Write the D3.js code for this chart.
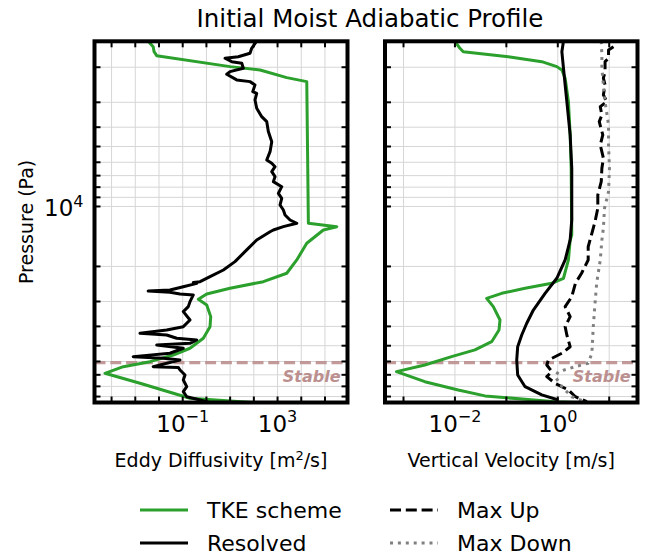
<!DOCTYPE html>
<html>
<head>
<meta charset="utf-8">
<script src="https://cdn.jsdelivr.net/npm/d3@7"></script>
<style>
  body { margin: 0; background: #fff; }
  text { font-family: "DejaVu Sans", sans-serif; }
</style>
</head>
<body>
<svg id="chart" width="654" height="556"></svg>
<script>
// Each series is a list of [value, pressure (Pa)]

// Eddy diffusivity, TKE scheme [m2/s]
var eddyTke = [
  [0.0035, 1480], [0.0057, 1577], [0.0062, 1671], [0.008, 1750], [9.9, 1986],
  [183, 2065], [2443, 2256], [17060, 2362], [19950, 12140], [314800, 12630],
  [85500, 13120], [17060, 15300], [6457, 18560], [2443, 21640], [252, 23850],
  [9.9, 25740], [1.03, 27490], [0.455, 29240], [1.03, 31220], [1.52, 35730],
  [1.42, 40120], [0.74, 45890], [0.203, 51500], [0.0401, 55670], [0.00417, 60130],
  [0.000312, 63730], [0.0000527, 68780], [0.00158, 77190], [0.0401, 86650],
  [0.203, 91800], [132, 96600]
];

// Eddy diffusivity, resolved [m2/s]
var eddyResolved = [
  [132, 1480], [81, 1607], [69, 1702], [22, 1771], [6.1, 1803], [11.7, 1875],
  [31, 1910], [36, 2024], [9.9, 2104], [7.2, 2168], [19, 2316], [69, 2362],
  [112, 2453], [90, 2652], [132, 2704], [112, 2919], [132, 3215], [215, 3541],
  [350, 3751], [409, 4209], [569, 4727], [483, 5306], [350, 5845], [569, 6072],
  [783, 6313], [569, 6688], [783, 7085], [665, 7505], [1503, 7955], [1081, 8590],
  [1503, 9100], [1274, 9826], [1758, 10420], [2071, 11040], [3365, 11690],
  [6457, 12140], [1758, 12630], [665, 13120], [483, 13390], [132, 14730],
  [50, 16520], [16, 18920], [5.2, 20840], [1.42, 22510], [0.54, 23860],
  [0.28, 24090], [0.39, 24330], [0.106, 25290], [0.029, 26260], [0.0035, 26600],
  [0.029, 26950], [0.077, 27480], [0.28, 27800], [0.203, 30050], [0.172, 31830],
  [0.106, 33720], [0.203, 37140], [0.106, 40120], [0.0211, 41690], [0.00158, 43340],
  [0.0211, 44190], [0.0558, 45890], [0.39, 46790], [0.203, 48620], [0.008, 49570],
  [0.106, 51500], [0.029, 54550], [0.00082, 56730], [0.0152, 57830], [0.077, 59010],
  [0.0057, 63680], [0.065, 64290], [0.077, 66200], [0.125, 70150], [0.106, 74300],
  [0.148, 80290], [0.106, 85080], [0.148, 90180], [0.54, 93600], [1.42, 96600]
];

// Vertical velocity, TKE scheme [m/s]
var velTke = [
  [0.01, 1480], [0.0125, 1607], [0.0145, 1671], [0.109, 1771], [0.488, 1875],
  [0.957, 1986], [1.2, 2065], [1.39, 2271], [1.61, 2977], [1.74, 4375],
  [1.82, 6430], [1.87, 13900], [1.74, 14730], [1.61, 18560], [1.29, 22930],
  [0.764, 24300], [0.231, 25750], [0.0812, 27290], [0.0414, 28910], [0.0557, 31830],
  [0.0752, 37140], [0.0719, 41690], [0.0518, 47730], [0.0245, 52500],
  [0.0086, 56730], [0.0026, 62510], [0.00073, 67480], [0.0026, 75800],
  [0.0116, 83430], [0.0384, 89330], [0.231, 92930], [0.886, 95550], [3.4, 96600]
];

// Vertical velocity, resolved [m/s]
var velResolved = [
  [1.29, 1480], [1.2, 1671], [1.29, 2024], [1.5, 2977], [1.74, 4375],
  [1.87, 6430], [1.87, 9460], [1.87, 11690], [1.74, 14730], [1.39, 18560],
  [0.957, 22930], [0.566, 27290], [0.335, 33110], [0.249, 38560], [0.199, 44190],
  [0.166, 50580], [0.159, 59010], [0.166, 70150], [0.231, 80290], [0.488, 88310],
  [1.03, 93600]
];

// Max updraft [m/s]
var velMaxUp = [
  [12.1, 1577], [9.7, 1637], [9.7, 1803], [8.3, 1875], [8.3, 2104], [7.7, 2271],
  [8.3, 2453], [7.7, 2754], [9.0, 2977], [6.7, 3155], [7.2, 3474], [6.4, 3751],
  [7.5, 4375], [6.7, 4909], [7.7, 5724], [7.2, 6430], [7.0, 7510], [6.0, 8756],
  [6.0, 10210], [5.3, 11920], [4.6, 13640], [3.9, 15930], [3.9, 18560],
  [2.9, 21630], [2.2, 24310], [1.87, 28390], [1.39, 31830], [1.74, 35730],
  [1.39, 40120], [1.5, 44190], [1.74, 50580], [1.2, 54560], [0.656, 59010],
  [0.611, 62510], [0.764, 67480], [0.611, 71450], [0.886, 77220], [1.61, 83430],
  [2.2, 90180], [3.67, 95550]
];

// Max downdraft [m/s]
var velMaxDown = [
  [7.0, 1480], [7.2, 1734], [7.2, 2024], [7.7, 2453], [8.3, 2977], [9.7, 3900],
  [9.7, 4909], [10.1, 6430], [9.7, 8430], [8.1, 10210], [7.7, 12860],
  [7.2, 14730], [6.7, 18560], [5.7, 24310], [5.3, 30620], [4.9, 40120],
  [4.6, 54560], [3.9, 61230], [2.2, 63680], [1.03, 67480], [0.886, 71450],
  [1.2, 80290], [1.87, 90180], [3.4, 95550]
];

var stablePressure = 60800;
var pressureDomain = [1482, 96400];
var eddyDomain = [Math.pow(10, -4.72), Math.pow(10, 5.95)];
var velDomain = [Math.pow(10, -3.36), Math.pow(10, 1.55)];
var eddyTickLabels = [1e-1, 1e3];
var velTickLabels = [1e-2, 1e0];
var pressureTickLabels = [1e4];

var green = "#2ca02c";
var stableColor = "#bc8f8f";

var svg = d3.select("#chart");

var margin = { top: 41.3, bottom: 402.5 };
var y = d3.scaleLog().domain(pressureDomain).range([margin.top, margin.bottom]);

var panels = [
  {
    id: "eddy", x0: 94.5, x1: 347.5, domain: eddyDomain, labels: eddyTickLabels,
    xlabel: ["Eddy Diffusivity [m", "2", "/s]"],
    series: [
      { data: eddyTke, color: green, dash: null },
      { data: eddyResolved, color: "#000", dash: null }
    ]
  },
  {
    id: "vel", x0: 385, x1: 637.5, domain: velDomain, labels: velTickLabels,
    xlabel: ["Vertical Velocity [m/s]"],
    series: [
      { data: velTke, color: green, dash: null },
      { data: velResolved, color: "#000", dash: null },
      { data: velMaxUp, color: "#000", dash: "11,4.8" },
      { data: velMaxDown, color: "#808080", dash: "3,4.9" }
    ]
  }
];

// minor + major pressure ticks
var yTicks = [];
[1000, 10000].forEach(function(base) {
  for (var m = 1; m < 10; m++) {
    var v = base * m;
    if (v >= pressureDomain[0] && v <= pressureDomain[1]) yTicks.push(v);
  }
});

function powLabel(sel, v) {
  var e = Math.round(Math.log10(v));
  sel.append("tspan").text("10");
  sel.append("tspan")
    .attr("dy", -9.5)
    .style("font-size", "16px")
    .text(e < 0 ? "\u2212" + (-e) : String(e));
}

panels.forEach(function(p, pi) {
  var x = d3.scaleLog().domain(p.domain).range([p.x0, p.x1]);
  var lo = Math.ceil(Math.log10(p.domain[0])), hi = Math.floor(Math.log10(p.domain[1]));
  var xTicks = d3.range(lo, hi + 1).map(function(e) { return Math.pow(10, e); });

  var g = svg.append("g").attr("class", "panel-" + p.id);

  g.append("clipPath").attr("id", "clip-" + p.id)
    .append("rect")
    .attr("x", p.x0).attr("y", margin.top)
    .attr("width", p.x1 - p.x0).attr("height", margin.bottom - margin.top);

  // grid
  g.selectAll(".vgrid").data(xTicks).enter().append("line")
    .attr("class", "vgrid")
    .attr("x1", function(d) { return x(d); }).attr("x2", function(d) { return x(d); })
    .attr("y1", margin.top).attr("y2", margin.bottom)
    .attr("stroke", "#d6d6d6").attr("stroke-width", 1);
  g.selectAll(".hgrid").data(yTicks).enter().append("line")
    .attr("class", "hgrid")
    .attr("x1", p.x0).attr("x2", p.x1)
    .attr("y1", function(d) { return y(d); }).attr("y2", function(d) { return y(d); })
    .attr("stroke", "#d6d6d6").attr("stroke-width", 1);

  var plot = g.append("g").attr("clip-path", "url(#clip-" + p.id + ")");

  // stable level
  plot.append("line")
    .attr("x1", p.x0).attr("x2", p.x1)
    .attr("y1", y(stablePressure)).attr("y2", y(stablePressure))
    .attr("stroke", stableColor).attr("stroke-opacity", 0.9)
    .attr("stroke-width", 3.3).attr("stroke-dasharray", "11,4.8");

  var line = d3.line()
    .x(function(d) { return x(d[0]); })
    .y(function(d) { return y(d[1]); });

  p.series.forEach(function(s) {
    plot.append("path")
      .datum(s.data)
      .attr("d", line)
      .attr("fill", "none")
      .attr("stroke", s.color)
      .attr("stroke-width", 3)
      .attr("stroke-linejoin", "round")
      .attr("stroke-dasharray", s.dash);
  });

  g.append("text")
    .attr("x", p.x1 - 7)
    .attr("y", y(stablePressure) + 19)
    .attr("text-anchor", "end")
    .attr("fill", stableColor)
    .style("font-size", "16px")
    .style("font-weight", "bold")
    .style("font-style", "italic")
    .text("Stable");

  // ticks (inward, all sides)
  var tk = 6;
  xTicks.forEach(function(v) {
    g.append("line").attr("x1", x(v)).attr("x2", x(v))
      .attr("y1", margin.top).attr("y2", margin.top + tk)
      .attr("stroke", "#000").attr("stroke-width", 2);
    g.append("line").attr("x1", x(v)).attr("x2", x(v))
      .attr("y1", margin.bottom).attr("y2", margin.bottom - tk)
      .attr("stroke", "#000").attr("stroke-width", 2);
  });
  yTicks.forEach(function(v) {
    g.append("line").attr("x1", p.x0).attr("x2", p.x0 + tk)
      .attr("y1", y(v)).attr("y2", y(v))
      .attr("stroke", "#000").attr("stroke-width", 2);
    g.append("line").attr("x1", p.x1).attr("x2", p.x1 - tk)
      .attr("y1", y(v)).attr("y2", y(v))
      .attr("stroke", "#000").attr("stroke-width", 2);
  });

  // frame
  g.append("rect")
    .attr("x", p.x0).attr("y", margin.top)
    .attr("width", p.x1 - p.x0).attr("height", margin.bottom - margin.top)
    .attr("fill", "none").attr("stroke", "#000").attr("stroke-width", 4);

  // x tick labels
  p.labels.forEach(function(v) {
    var t = g.append("text")
      .attr("x", x(v)).attr("y", margin.bottom + 29)
      .attr("text-anchor", "middle")
      .style("font-size", "23px");
    powLabel(t, v);
  });

  // x label
  var xl = g.append("text")
    .attr("x", (p.x0 + p.x1) / 2).attr("y", 467)
    .attr("text-anchor", "middle")
    .style("font-size", "19px");
  xl.append("tspan").text(p.xlabel[0]);
  if (p.xlabel.length > 1) {
    xl.append("tspan").attr("dy", -7).style("font-size", "13px").text(p.xlabel[1]);
    xl.append("tspan").attr("dy", 7).text(p.xlabel[2]);
  }

  if (pi === 0) {
    pressureTickLabels.forEach(function(v) {
      var t = g.append("text")
        .attr("x", p.x0 - 11).attr("y", y(v) + 10)
        .attr("text-anchor", "end")
        .style("font-size", "23px");
      powLabel(t, v);
    });
    g.append("text")
      .attr("transform", "translate(33," + ((margin.top + margin.bottom) / 2) + ") rotate(-90)")
      .attr("text-anchor", "middle")
      .style("font-size", "19px")
      .text("Pressure (Pa)");
  }
});

svg.append("text")
  .attr("x", 370).attr("y", 27)
  .attr("text-anchor", "middle")
  .style("font-size", "24.5px")
  .text("Initial Moist Adiabatic Profile");

// legend
var legendItems = [
  { label: "TKE scheme", color: green, dash: null, col: 0, row: 0 },
  { label: "Resolved", color: "#000", dash: null, col: 0, row: 1 },
  { label: "Max Up", color: "#000", dash: "11,4.8", col: 1, row: 0 },
  { label: "Max Down", color: "#808080", dash: "3,4.9", col: 1, row: 1 }
];
var legend = svg.append("g").attr("class", "legend");
var colX = [140, 390], rowY = [510, 543];
legendItems.forEach(function(d) {
  var lx = colX[d.col], ly = rowY[d.row];
  legend.append("line")
    .attr("x1", lx).attr("x2", lx + 48)
    .attr("y1", ly).attr("y2", ly)
    .attr("stroke", d.color).attr("stroke-width", 3)
    .attr("stroke-dasharray", d.dash);
  legend.append("text")
    .attr("x", lx + 67).attr("y", ly + 8)
    .style("font-size", "22px")
    .text(d.label);
});
</script>
</body>
</html>
